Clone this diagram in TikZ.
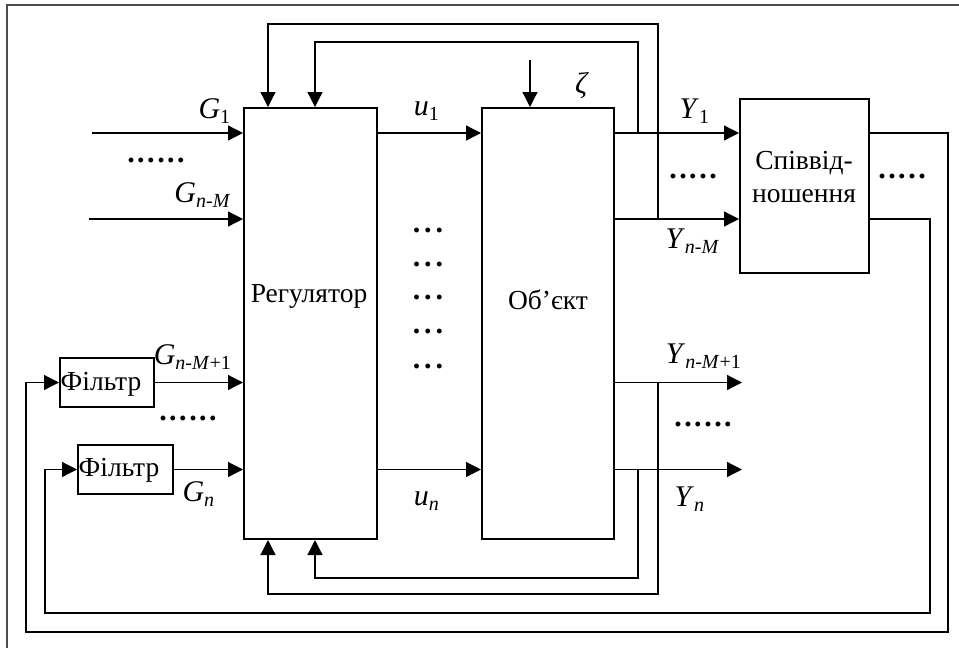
\documentclass[tikz,border=0pt]{standalone}
\usepackage{fontspec}
\setmainfont{Liberation Serif}
\usetikzlibrary{arrows.meta,fit,calc}
\tikzset{
  blk/.style={draw, line width=0.8pt, inner sep=0pt},
  txt/.style={font=\fontsize{11}{13.5}\selectfont, align=center, inner sep=1pt},
  lbl/.style={font=\fontsize{12}{14}\selectfont, inner sep=1pt},
  dts/.style={font=\fontsize{12}{14}\selectfont\bfseries, inner sep=0pt},
  arr/.style={-{Triangle[length=6pt,width=6pt]}, line width=0.5pt},
  frm/.style={draw=black!70, line width=0.7pt},
}
\newcommand{\sig}[2]{\textit{#1}\textsubscript{#2}}
\newcommand{\dd}{.\kern1pt}
\newcommand{\vdd}{.\kern1.6pt.\kern1.6pt.}

\begin{document}
\begin{tikzpicture}[x=0.4pt, y=-0.4pt]
  \useasboundingbox (0,0) rectangle (959,648);
  \draw[frm] (959,5) -| (7,648);

  \node[blk, fit={(244,108) (377,539)}] (reg) {};
  \node[blk, fit={(482,108) (614,539)}] (obj) {};
  \node[blk, fit={(740,99) (869,273)}] (sp) {};
  \node[blk, fit={(60,358) (154,407)}] (f1) {};
  \node[blk, fit={(78,445) (173,494)}] (f2) {};
  \node[txt] (treg) at (309,296) {Регулятор};
  \node[txt] (tobj) at (548,300) {Об’єкт};
  \node[txt] (tsp) at (804,177) {Співвід-\\ношення};
  \node[txt] (tf1) at (101,384) {Фільтр};
  \node[txt] (tf2) at (119,470) {Фільтр};

  \coordinate (r1) at (0,133);
  \coordinate (r2) at (0,219);
  \coordinate (r3) at (0,382.5);
  \coordinate (r4) at (0,469.5);
  \coordinate (g1) at (92,133);
  \coordinate (g2) at (89,219);
  \coordinate (y3) at (742,382.5);
  \coordinate (y4) at (742,469.5);
  \coordinate (zt) at (530,60);

  \draw[arr] (g1) -- (g1 -| reg.west);
  \draw[arr] (g2) -- (g2 -| reg.west);
  \draw[arr] (f1.east) -- (f1.east -| reg.west);
  \draw[arr] (f2.east) -- (f2.east -| reg.west);
  \draw[arr] (reg.east |- r1) -- (obj.west |- r1);
  \draw[arr] (reg.east |- r4) -- (obj.west |- r4);
  \draw[arr] (obj.east |- r1) -- (sp.west |- r1);
  \draw[arr] (obj.east |- r2) -- (sp.west |- r2);
  \draw[arr] (obj.east |- r3) -- (y3);
  \draw[arr] (obj.east |- r4) -- (y4);
  \draw[arr] (zt) -- (zt |- obj.north);

  \coordinate (ka) at (315,42);
  \coordinate (kb) at (268,24);
  \coordinate (kc) at (315,578);
  \coordinate (kd) at (268,594);
  \draw[arr] (638,133) |- (ka) -- (ka |- reg.north);
  \draw[arr] (658,219) |- (kb) -- (kb |- reg.north);
  \draw[arr] (638,469.5) |- (kc) -- (kc |- reg.south);
  \draw[arr] (658,382.5) |- (kd) -- (kd |- reg.south);
  \draw[arr] (sp.east |- r1) -| (948,632) -| (26,382.5) -- (f1.west);
  \draw[arr] (sp.east |- r2) -| (930,613) -| (45,469.5) -- (f2.west);

  \node[lbl] (lg1) at (215,111) {\sig{G}{1}};
  \node[lbl] (lg2) at (203,195) {\sig{G}{\textit{n-M}}};
  \node[lbl] (lg3) at (193,357) {\sig{G}{\textit{n-M}+1}};
  \node[lbl] (lg4) at (199,494) {\sig{G}{\textit{n}}};
  \node[lbl] (lu1) at (427,111) {\sig{u}{1}};
  \node[lbl] (lun) at (427,501) {\sig{u}{\textit{n}}};
  \node[lbl] (lz) at (582,86) {\textit{ζ}};
  \node[lbl] (ly1) at (695,111) {\sig{Y}{1}};
  \node[lbl] (ly2) at (693,241) {\sig{Y}{\textit{n-M}}};
  \node[lbl] (ly3) at (704,356) {\sig{Y}{\textit{n-M}+1}};
  \node[lbl] (ly4) at (690,499) {\sig{Y}{\textit{n}}};

  \node[dts] (dg1) at (156,160) {\dd\dd\dd\dd\dd.};
  \node[dts] (dg2) at (188,418) {\dd\dd\dd\dd\dd.};
  \node[dts] (dy1) at (693,176) {\dd\dd\dd\dd.};
  \node[dts] (dy2) at (902,176) {\dd\dd\dd\dd.};
  \node[dts] (dy3) at (703,424) {\dd\dd\dd\dd\dd.};
  \foreach \y [count=\i] in {232,266,299,333,368}
    \node[dts] (du\i) at (428,\y-2) {\vdd};
\end{tikzpicture}
\end{document}
